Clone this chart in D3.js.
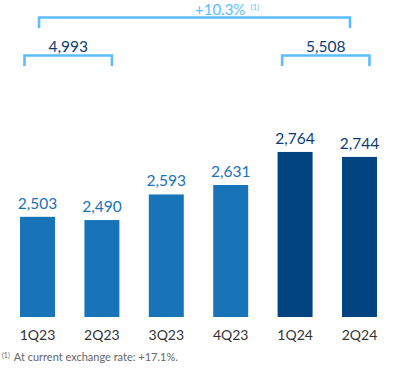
<!DOCTYPE html>
<html><head><meta charset="utf-8">
<script src="https://cdn.jsdelivr.net/npm/d3@7"></script>
<style>
html,body{margin:0;padding:0;background:#fff;}
svg{display:block;font-family:Lato, "Open Sans", sans-serif;}
</style></head>
<body>
<svg id="chart" width="405" height="368"></svg>
<script>
const categories = ["1Q23","2Q23","3Q23","4Q23","1Q24","2Q24"];
const values = [2503, 2490, 2593, 2631, 2764, 2744];
const years = ["2023","2023","2023","2023","2024","2024"];
const groupTotals = [{label:"4,993", from:"1Q23", to:"2Q23"}, {label:"5,508", from:"1Q24", to:"2Q24"}];
const growthLabel = "+10.3%";
const growthNote = "(1)";
const footnote = "At current exchange rate: +17.1%.";

const colors = {"2023":"#1973B8","2024":"#004481"};
const labelColors = {"2023":"#1973B8","2024":"#0B3D73"};
const bracketColor = "#5BBEFF";

const svg = d3.select("#chart");
const x = d3.scaleBand().domain(categories).range([5.3, 391.7]).paddingInner(0.457).paddingOuter(0.2285);
const y = d3.scaleLinear().domain([2100, 2800]).range([317, 143]);
const fmt = d3.format(",");

// bars
svg.selectAll("rect.bar").data(values).join("rect")
  .attr("x", (d,i)=>x(categories[i]))
  .attr("y", d=>y(d))
  .attr("width", x.bandwidth())
  .attr("height", d=>y.range()[0]-y(d))
  .attr("fill", (d,i)=>colors[years[i]]);

// value labels
svg.selectAll("text.val").data(values).join("text")
  .attr("x", (d,i)=>x(categories[i])+x.bandwidth()/2)
  .attr("y", d=>y(d)-8)
  .attr("text-anchor","middle")
  .attr("font-size",15.5)
  .attr("fill",(d,i)=>labelColors[years[i]])
  .text(d=>fmt(d));

// category axis labels
const xAxis = d3.axisBottom(x).tickSize(0).tickPadding(0);
const ax = svg.append("g").attr("transform","translate(0,340)").call(xAxis);
ax.select(".domain").remove();
ax.selectAll("text").attr("font-size",14).attr("fill","#333").attr("dy",0).attr("font-family","Lato, 'Open Sans', sans-serif");

// group brackets
const bTop = 55.5, bBottom = 66;
groupTotals.forEach(g=>{
  const x0 = x(g.from)+4.5, x1 = x(g.to)+x.bandwidth()-7.5;
  svg.append("path")
    .attr("d", `M${x0},${bBottom}V${bTop}H${x1}V${bBottom}`)
    .attr("fill","none").attr("stroke",bracketColor).attr("stroke-width",2.6);
  svg.append("text").attr("x",(x0+x1)/2).attr("y",bTop-4)
    .attr("text-anchor","middle").attr("font-size",15.5).attr("fill","#0B3D73").text(g.label);
});

// overall bracket
const tx0 = x(categories[0])+19, tx1 = x(categories[categories.length-1])+8;
svg.append("path")
  .attr("d", `M${tx0},28V17.5H${tx1}V28`)
  .attr("fill","none").attr("stroke",bracketColor).attr("stroke-width",2.6);
const gt = svg.append("text").attr("x",195).attr("y",14.5).attr("font-size",15).attr("fill",bracketColor);
gt.append("tspan").text(growthLabel);
gt.append("tspan").attr("dx",5).attr("dy",-5).attr("font-size",8).text(growthNote);

// footnote
const fn = svg.append("text").attr("x",2).attr("y",361).attr("font-size",11).attr("fill","#666");
fn.append("tspan").attr("font-size",7).attr("dy",-3).text("(1)");
fn.append("tspan").attr("dx",4).attr("dy",3).text(footnote);
</script>
</body></html>
